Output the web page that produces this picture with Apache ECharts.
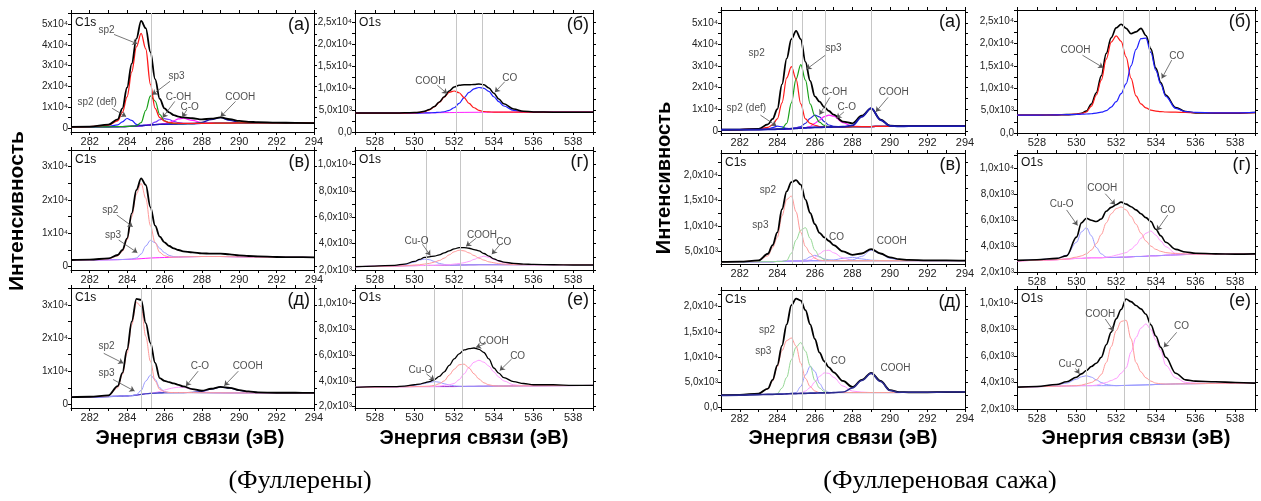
<!DOCTYPE html>
<html><head><meta charset="utf-8">
<script src="https://cdn.jsdelivr.net/npm/echarts@6/dist/echarts.min.js"></script>
<style>html,body{margin:0;padding:0;background:#fff}#c{width:1261px;height:501px}</style>
</head><body><div id="c"></div><script>
// ---------- energy grids ----------
const xC = [281,282,283,283.5,283.75,284,284.25,284.5,284.75,285,285.25,285.5,285.75,286,286.25,286.5,286.75,287,287.5,288,288.5,289,289.5,290,290.5,291,292,293,294];
const xO = [527,528,529,529.5,530,530.25,530.5,530.75,531,531.25,531.5,531.75,532,532.25,532.5,532.75,533,533.25,533.5,533.75,534,534.25,534.5,535,535.5,536,537,538,539];

// ---------- tick labels ----------
const X_LABELS_C = [282,284,286,288,290,292,294];
const X_LABELS_O = [528,530,532,534,536,538];
const C_TICKS_A = [0,10000,20000,30000,40000,50000];
const C_LABELS_A = ['0','1x10⁴','2x10⁴','3x10⁴','4x10⁴','5x10⁴'];
const C_TICKS_B = [0,10000,20000,30000];
const C_LABELS_B = ['0','1x10⁴','2x10⁴','3x10⁴'];
const O_TICKS_A = [0,5000,10000,15000,20000,25000];
const O_LABELS_A = ['0,0','5,0x10³','1,0x10⁴','1,5x10⁴','2,0x10⁴','2,5x10⁴'];
const O_TICKS_B = [2000,4000,6000,8000,10000];
const O_LABELS_B = ['2,0x10³','4,0x10³','6,0x10³','8,0x10³','1,0x10⁴'];
const RV_TICKS = [5000,10000,15000,20000];
const RV_LABELS = ['5,0x10³','1,0x10⁴','1,5x10⁴','2,0x10⁴'];
const RD_TICKS = [0,5000,10000,15000,20000];
const RD_LABELS = ['0,0','5,0x10³','1,0x10⁴','1,5x10⁴','2,0x10⁴'];

// ---------- LEFT (Фуллерены) ----------
// (а) C1s
const LA_bg    = [500,550,600,650,700,750,850,950,1100,1300,1500,1650,1750,1850,1900,1950,2000,2050,2100,2200,2300,2350,2400,2450,2450,2450,2450,2450,2400];
const LA_total = [600,700,1600,4200,9500,19500,31000,43000,51500,48000,36500,23500,14000,9500,7500,6200,5500,5100,4700,4200,4500,5100,4300,3400,3000,2800,2600,2500,2400];
const LA_sp2   = [550,700,1400,3500,7500,15000,27000,39000,45500,38000,21000,9500,5000,3300,2700,2400,2300,2250,2200,2250,2300,2350,2400,2450,2450,2450,2450,2450,2400];
const LA_sp3   = [500,550,600,650,700,760,880,1100,2600,8500,15500,13000,6500,3500,2500,2200,2100,2100,2150,2250,2300,2350,2400,2450,2450,2450,2450,2450,2400];
const LA_def   = [500,560,800,1500,3000,4600,3700,1800,1250,1320,1500,1650,1750,1850,1900,1950,2000,2050,2100,2200,2300,2350,2400,2450,2450,2450,2450,2450,2400];
const LA_coh   = [500,550,600,650,700,750,850,950,1120,1400,1800,2800,4000,4500,4100,3200,2600,2300,2150,2200,2300,2350,2400,2450,2450,2450,2450,2450,2400];
const LA_co    = [500,550,600,650,700,750,850,950,1100,1300,1500,1700,1850,2100,2600,3500,4400,4700,3700,2600,2350,2350,2400,2450,2450,2450,2450,2450,2400];
const LA_cooh  = [500,550,600,650,700,750,850,950,1100,1300,1500,1650,1750,1850,1900,1950,2000,2050,2200,2700,4100,5000,3700,2700,2500,2450,2450,2450,2400];
const LA_notes = [['sp2',282.9,47000,283.3,45000,284.55,40500],['sp3',286.65,24700,286.3,22500,285.35,16000],['sp2 (def)',282.4,12600,283.2,9500,283.95,5500],['C-OH',286.75,15000,286.55,12800,285.9,5000],['C-O',287.35,10200,287.2,8800,286.95,5200],['COOH',290.05,15000,289.8,12800,289.0,5400]];
const LA_vlines = [285.3];
// (б) O1s
const LB_bg    = [4300,4300,4300,4300,4300,4300,4320,4340,4360,4380,4400,4400,4420,4440,4450,4460,4470,4480,4490,4500,4500,4500,4500,4500,4500,4500,4500,4500,4500];
const LB_total = [4300,4300,4300,4350,4400,4500,4700,5100,5800,6800,8000,9300,10200,10600,10700,10700,10800,10900,10700,10000,8800,7500,6400,5200,4700,4550,4500,4500,4500];
const LB_cooh  = [4300,4300,4300,4300,4350,4450,4600,5000,5700,6700,7900,9000,9300,8900,7800,6500,5500,4900,4650,4550,4520,4500,4500,4500,4500,4500,4500,4500,4500];
const LB_co    = [4300,4300,4300,4300,4300,4300,4320,4340,4400,4480,4600,4900,5500,6500,7800,9000,9800,10100,9900,9200,8000,6900,5900,4900,4600,4520,4500,4500,4500];
const LB_notes = [['COOH',530.8,11500,531.15,10600,531.65,8700],['CO',534.8,12300,534.55,11400,534.05,9000]];
const LB_vlines = [532.1,533.4];
// (в) C1s
const LV_bg    = [1950,2000,2050,2100,2150,2200,2250,2300,2400,2500,2600,2650,2700,2750,2800,2850,2900,2950,3000,3050,3050,3050,3000,2950,2900,2850,2800,2800,2750];
const LV_total = [2000,2100,2500,3500,5000,8500,16000,23000,26500,24500,17800,12300,9000,7300,6200,5500,5000,4600,4300,4000,3900,3900,3700,3400,3200,3100,2900,2850,2800];
const LV_sp2   = [2000,2050,2350,3200,4600,8000,15000,21800,25000,20500,12300,7200,4300,3300,2900,2850,2900,2950,3000,3050,3050,3050,3000,2950,2900,2850,2800,2800,2750];
const LV_sp3   = [1950,2000,2050,2100,2150,2200,2300,2600,3800,6200,7900,7200,5500,4200,3400,3000,2900,2950,3000,3050,3050,3050,3000,2950,2900,2850,2800,2800,2750];
const LV_notes = [['sp2',283.1,17000,283.45,15500,284.3,12000],['sp3',283.25,9500,283.55,8000,284.55,4200]];
const LV_vlines = [285.3];
// (г) O1s
const LG_bg    = [2250,2280,2300,2320,2330,2340,2340,2350,2350,2360,2360,2370,2370,2380,2380,2390,2390,2400,2400,2400,2400,2400,2400,2400,2400,2400,2400,2400,2400];
const LG_total = [2250,2300,2350,2450,2650,2800,2950,3000,3050,3150,3300,3450,3600,3700,3700,3650,3550,3450,3250,3050,2850,2700,2600,2500,2450,2420,2400,2380,2380];
const LG_cuo   = [2250,2280,2320,2400,2600,2750,2830,2780,2650,2500,2420,2380,2370,2380,2380,2390,2390,2400,2400,2400,2400,2400,2400,2400,2400,2400,2400,2400,2400];
const LG_cooh  = [2250,2280,2300,2320,2380,2400,2450,2500,2600,2720,2900,3150,3380,3500,3450,3300,3100,2900,2750,2620,2550,2480,2450,2410,2400,2400,2400,2400,2400];
const LG_co    = [2250,2280,2300,2320,2330,2340,2340,2350,2350,2360,2380,2400,2450,2490,2550,2650,2800,2950,3050,2950,2800,2650,2550,2450,2420,2400,2400,2400,2400];
const LG_notes = [['Cu-O',530.1,4200,530.4,3950,530.8,3100],['COOH',533.4,4600,533.1,4400,532.6,3800],['CO',534.5,4100,534.3,3900,533.9,3200]];
const LG_vlines = [530.6,532.3];
// (д) C1s
const LD_bg    = [2100,2200,2350,2450,2500,2550,2650,2800,3000,3200,3300,3400,3450,3500,3520,3540,3550,3550,3550,3520,3500,3480,3460,3450,3450,3430,3420,3400,3400];
const LD_total = [2200,2300,2700,5500,9500,16500,25000,31800,31500,24500,18500,12500,7900,7100,6700,6300,5900,5400,4600,4100,4700,5300,5000,4300,3900,3600,3500,3500,3450];
const LD_sp2   = [2150,2250,2600,5000,9000,15500,24000,30800,29500,20500,13000,7000,4500,3800,3600,3550,3550,3550,3550,3520,3500,3480,3460,3450,3450,3430,3420,3400,3400];
const LD_sp3   = [2100,2200,2350,2450,2500,2550,2650,2900,4200,7000,8800,7500,5000,3800,3550,3540,3550,3550,3550,3520,3500,3480,3460,3450,3450,3430,3420,3400,3400];
const LD_co    = [2100,2200,2350,2450,2500,2550,2650,2800,3000,3200,3350,3550,3900,4300,4700,5000,5150,5100,4500,3800,3550,3480,3460,3450,3450,3430,3420,3400,3400];
const LD_cooh  = [2100,2200,2350,2450,2500,2550,2650,2800,3000,3200,3300,3400,3450,3500,3520,3540,3550,3550,3600,3900,4600,5200,4900,4200,3800,3550,3420,3400,3400];
const LD_notes = [['sp2',282.9,17400,282.75,15400,283.8,12400],['sp3',282.9,9400,283.25,7500,284.4,4000],['C-O',287.9,11600,287.8,10000,287.15,5500],['COOH',290.45,11600,289.95,10000,289.2,5600]];
const LD_vlines = [284.75,285.3];
// (е) O1s
const LE_bg    = [3500,3520,3540,3550,3560,3560,3560,3560,3560,3560,3560,3560,3560,3570,3570,3580,3580,3590,3590,3600,3600,3600,3600,3610,3620,3620,3630,3640,3650];
const LE_total = [3500,3550,3550,3600,3700,3750,3850,3950,4100,4350,4700,5200,5700,6100,6400,6500,6550,6450,6200,5700,5000,4600,4250,3950,3800,3700,3700,3650,3650];
const LE_cuo   = [3500,3520,3540,3580,3650,3720,3800,3880,3950,3900,3780,3680,3620,3590,3580,3580,3580,3590,3590,3600,3600,3600,3600,3610,3620,3620,3630,3640,3650];
const LE_cooh  = [3500,3520,3540,3550,3560,3570,3580,3600,3650,3780,4000,4450,4900,5250,5300,5000,4550,4150,3850,3700,3620,3600,3600,3610,3620,3620,3630,3640,3650];
const LE_co    = [3500,3520,3540,3550,3560,3560,3560,3560,3570,3600,3650,3700,3800,4100,4550,5050,5450,5600,5450,5150,4700,4300,4000,3700,3620,3620,3630,3640,3650];
const LE_notes = [['Cu-O',530.3,4800,530.6,4550,531.0,4050],['COOH',534.0,7100,533.6,6900,533.1,6600],['CO',535.2,5900,534.9,5700,534.3,4800]];
const LE_vlines = [531.0,532.4];

// ---------- RIGHT (Фуллереновая сажа) ----------
// (а) C1s
const RA_bg    = [500,550,600,650,700,750,800,900,1000,1150,1300,1400,1500,1600,1650,1700,1750,1800,1850,1900,1950,2000,2050,2100,2100,2150,2150,2200,2200];
const RA_total = [500,600,900,3000,5500,10000,21500,33500,42500,46300,42500,32000,23200,16000,13500,11000,9200,7500,4300,3500,7000,10400,5200,2400,2200,2150,2150,2200,2200];
const RA_sp2   = [500,600,900,1600,2800,5500,13000,24500,29800,24000,12500,5500,3500,2600,2000,1800,1750,1800,1850,1900,1950,2000,2050,2100,2100,2150,2150,2200,2200];
const RA_sp3   = [500,550,600,650,700,800,1000,3500,13000,24000,30700,23500,12500,7000,4000,2500,2000,1850,1850,1900,1950,2000,2050,2100,2100,2150,2150,2200,2200];
const RA_def   = [500,550,650,900,1500,2200,1800,1100,1050,1150,1300,1400,1500,1600,1650,1700,1750,1800,1850,1900,1950,2000,2050,2100,2100,2150,2150,2200,2200];
const RA_coh   = [500,550,600,650,700,750,800,900,1050,1400,2000,3500,5800,7300,6500,4300,2700,2100,1850,1900,1950,2000,2050,2100,2100,2150,2150,2200,2200];
const RA_co    = [500,550,600,650,700,750,800,900,1000,1150,1300,1500,2000,3500,5000,6600,7300,6800,3800,2100,1950,2000,2050,2100,2100,2150,2150,2200,2200];
const RA_cooh  = [500,550,600,650,700,750,800,900,1000,1150,1300,1400,1500,1600,1650,1700,1750,1800,1900,2500,6500,10500,5000,2300,2100,2150,2150,2200,2200];
const RA_notes = [['sp2',282.9,35800],['sp3',287.0,38100,286.55,35000,285.55,28500],['sp2 (def)',282.35,10400,283.1,7300,283.95,2300],['C-OH',287.05,17800,286.8,15500,286.25,7500],['C-O',287.7,11100,287.55,8800,287.15,5800],['COOH',290.2,17800,289.9,15500,289.25,8800]];
const RA_vlines = [284.77,285.35,286.58,289.03];
// (б) O1s
const RB_total = [4000,4000,4050,4100,4200,4400,4900,6500,9000,12800,17800,21300,23500,24300,23400,22200,22600,23400,21800,18800,14500,11300,8500,5700,4800,4500,4450,4450,4600];
const RB_cooh  = [4000,4000,4050,4100,4200,4350,4700,6000,8500,11800,16500,20300,21700,20500,17000,12200,8300,6500,5600,5100,4900,4800,4700,4650,4600,4550,4500,4500,4550];
const RB_co    = [4000,4000,4050,4100,4150,4200,4250,4300,4450,4650,5000,5800,7000,8800,11000,15000,18700,21100,21200,18000,14000,10900,8200,5500,4800,4600,4500,4500,4600];
const RB_notes = [['COOH',529.95,18500,530.3,17400,531.35,14600],['CO',535.05,17200,534.8,16300,534.3,12200]];
const RB_vlines = [532.35,533.65];
// (в) C1s
const RV_bg    = [2950,3000,3050,3050,3050,3100,3100,3150,3150,3200,3200,3200,3250,3250,3250,3250,3250,3250,3250,3250,3250,3250,3250,3250,3250,3250,3250,3250,3250];
const RV_total = [3000,3050,3300,4600,6300,8800,13300,16800,18600,19000,18100,15200,12600,10400,8700,7800,7100,6300,5050,4400,4650,5500,4650,3900,3550,3400,3300,3300,3250];
const RV_sp2   = [3000,3050,3250,4200,5800,7800,12000,15200,15900,12800,8800,6000,4700,3700,3350,3250,3250,3250,3250,3250,3250,3250,3250,3250,3250,3250,3250,3250,3250];
const RV_sp3   = [2950,3000,3050,3050,3050,3100,3100,3300,4700,7300,9200,9700,7600,5300,4000,3500,3300,3250,3250,3250,3250,3250,3250,3250,3250,3250,3250,3250,3250];
const RV_b1    = [2950,3000,3050,3050,3050,3100,3100,3150,3150,3200,3200,3500,4000,4300,4000,3600,3400,3300,3250,3250,3250,3250,3250,3250,3250,3250,3250,3250,3250];
const RV_co    = [2950,3000,3050,3050,3050,3100,3100,3150,3150,3200,3200,3250,3400,3900,4600,5200,5300,4800,3800,3300,3250,3250,3250,3250,3250,3250,3250,3250,3250];
const RV_b2    = [2950,3000,3050,3050,3050,3100,3100,3150,3150,3200,3200,3200,3250,3250,3250,3280,3320,3400,3700,3900,3600,3350,3280,3250,3250,3250,3250,3250,3250];
const RV_cooh  = [2950,3000,3050,3050,3050,3100,3100,3150,3150,3200,3200,3200,3250,3250,3250,3250,3250,3250,3250,3400,4100,5300,4600,3700,3400,3300,3250,3250,3250];
const RV_notes = [['sp2',283.5,17000],['sp3',283.1,10200],['CO',287.15,7900],['COOH',290.1,7100]];
const RV_vlines = [284.77,285.35,286.58,289.1];
// (г) O1s
const RG_bg    = [2850,2900,2950,3000,3050,3050,3080,3100,3100,3100,3120,3120,3130,3150,3150,3170,3200,3200,3220,3250,3250,3270,3300,3320,3350,3370,3380,3400,3400];
const RG_total = [2900,2950,3050,3250,4700,5800,6150,6000,5900,6100,6700,7000,7200,7400,7250,7050,6800,6500,6200,5900,5300,4800,4300,3750,3550,3450,3400,3380,3400];
const RG_cuo   = [2850,2950,3050,3300,4300,5100,5430,4800,3900,3400,3150,3120,3130,3150,3150,3170,3200,3200,3220,3250,3250,3270,3300,3320,3350,3370,3380,3400,3400];
const RG_cooh  = [2850,2900,2950,3000,3150,3250,3400,3700,4200,4900,5800,6500,6900,7030,6800,6300,5700,5000,4400,4000,3750,3600,3500,3420,3400,3380,3380,3400,3400];
const RG_co    = [2850,2900,2950,3000,3050,3050,3080,3100,3100,3100,3150,3200,3300,3400,3500,3750,4100,4600,5000,5170,4850,4400,3950,3450,3400,3380,3380,3400,3400];
const RG_notes = [['Cu-O',529.25,7200,529.5,6800,530.05,5600],['COOH',531.3,8450,531.45,8050,531.95,7200],['CO',534.6,6800,534.6,6400,534.05,5200]];
const RG_vlines = [530.48,532.36,533.67];
// (д) C1s
const RD_bg    = [2450,2500,2600,2650,2650,2700,2700,2750,2800,2800,2850,2850,2900,2900,2950,2950,2950,3000,3000,3000,3000,3000,3000,3000,3000,3050,3050,3100,3100];
const RD_total = [2500,2550,2800,3800,5500,8400,12300,16500,20300,21600,21200,19300,16500,13600,10900,9200,8000,7000,5300,4100,5500,6900,5300,3500,3100,3050,3050,3100,3100];
const RD_sp2   = [2450,2500,2750,3700,5300,8100,11300,13300,13800,12200,8800,5800,4200,3300,3000,2950,2950,3000,3000,3000,3000,3000,3000,3000,3000,3050,3050,3100,3100];
const RD_sp3   = [2450,2500,2600,2650,2650,2800,3900,6000,9500,12000,12900,11200,8300,5400,3900,3200,3000,3000,3000,3000,3000,3000,3000,3000,3000,3050,3050,3100,3100];
const RD_b     = [2450,2500,2600,2650,2650,2700,2700,2750,2850,3000,4200,6500,8200,7200,4800,3500,3050,3000,3000,3000,3000,3000,3000,3000,3000,3050,3050,3100,3100];
const RD_co    = [2450,2500,2600,2650,2650,2700,2700,2750,2800,2800,2900,3300,4000,5100,6200,6900,6800,6000,4300,3300,3100,3000,3000,3000,3000,3050,3050,3100,3100];
const RD_cooh  = [2450,2500,2600,2650,2650,2700,2700,2750,2800,2800,2850,2850,2900,2900,2950,2950,2950,3000,3100,3900,5400,6800,5200,3400,3050,3050,3050,3100,3100];
const RD_notes = [['sp2',283.45,15400],['sp3',283.25,11200],['CO',287.25,9200],['COOH',290.3,7800]];
const RD_vlines = [284.77,285.35,286.58,289.1];
// (е) O1s
const RE_bg    = [3620,3680,3720,3740,3750,3760,3760,3760,3760,3760,3760,3760,3760,3770,3780,3790,3800,3810,3820,3830,3850,3860,3870,3890,3900,3910,3930,3940,3950];
const RE_total = [3650,3700,3850,4050,4400,4650,4900,5200,5450,5900,6850,7800,8800,9500,10300,10100,9800,9550,9150,8350,7500,6650,5900,4700,4200,4100,4050,4000,3950];
const RE_cuo   = [3620,3680,3850,3950,4250,4430,4510,4400,4200,4000,3850,3790,3760,3770,3780,3790,3800,3810,3820,3830,3850,3860,3870,3890,3900,3910,3930,3940,3950];
const RE_cooh  = [3620,3680,3720,3740,3760,3800,3900,4000,4200,4600,5500,6700,7900,8600,8700,7300,5500,4800,4350,4100,3950,3900,3880,3890,3900,3910,3930,3940,3950];
const RE_co    = [3620,3680,3720,3740,3750,3760,3760,3760,3800,3900,4000,4150,4300,4700,5100,6300,7400,8100,8420,8000,7200,6400,5300,4350,4000,3950,3930,3940,3950];
const RE_notes = [['Cu-O',529.7,5400,529.95,5050,530.15,4650],['COOH',531.2,9170,531.45,8790,531.86,7900],['CO',535.3,8240,535.05,7780,534.4,6650]];
const RE_vlines = [530.5,532.4,533.65];

// ---------- layout & styles ----------
const FONT = 'Liberation Sans, Arial, sans-serif';
const BOX = {
  LA:{left:71,top:13,width:243,height:119}, LB:{left:355,top:13,width:238,height:119},
  LV:{left:71,top:150,width:243,height:120}, LG:{left:355,top:150,width:238,height:120},
  LD:{left:71,top:288,width:243,height:120}, LE:{left:355,top:288,width:238,height:120},
  RA:{left:721,top:10,width:244,height:123}, RB:{left:1017,top:10,width:238,height:123},
  RV:{left:721,top:153,width:244,height:111}, RG:{left:1017,top:153,width:238,height:119},
  RD:{left:721,top:290,width:244,height:119}, RE:{left:1017,top:289,width:238,height:120}
};
const RED='#ff1a1a', GRN='#18a018', BLU='#2020ff', MAG='#ff20ff', VIO='#9932cc', DBL='#1a1ab0';
const pRED='#ff9a9a', pGRN='#96d896', pBLU='#9a9aff', pMAG='#ff9cff';
const K='#000';

const panels = [
  {id:'LA',k:'C',y:[-1900,55300],yt:C_TICKS_A,yl:C_LABELS_A,tag:'C1s',letter:'(а)',notes:LA_notes,vl:LA_vlines,
   curves:[[LA_bg,VIO,1],[LA_def,BLU,1.2],[LA_coh,'#7a3cff',1.2],[LA_co,MAG,1.2],[LA_cooh,DBL,1.4],[LA_sp3,GRN,1.2],[LA_sp2,RED,1.3],[LA_total,K,1.8]]},
  {id:'LB',k:'O',y:[0,27000],yt:O_TICKS_A,yl:O_LABELS_A,tag:'O1s',letter:'(б)',notes:LB_notes,vl:LB_vlines,
   curves:[[LB_bg,MAG,1],[LB_co,BLU,1.2],[LB_cooh,RED,1.2],[LB_total,K,1.5]]},
  {id:'LV',k:'C',y:[-1000,35000],yt:C_TICKS_B,yl:C_LABELS_B,tag:'C1s',letter:'(в)',notes:LV_notes,vl:LV_vlines,
   curves:[[LV_bg,MAG,1],[LV_sp3,pBLU,1],[LV_sp2,pRED,1],[LV_total,K,1.8]]},
  {id:'LG',k:'O',y:[2000,11100],yt:O_TICKS_B,yl:O_LABELS_B,tag:'O1s',letter:'(г)',notes:LG_notes,vl:LG_vlines,
   curves:[[LG_bg,VIO,1],[LG_cuo,pBLU,1],[LG_co,pMAG,1],[LG_cooh,pRED,1],[LG_total,K,1.3]]},
  {id:'LD',k:'C',y:[-1100,35100],yt:C_TICKS_B,yl:C_LABELS_B,tag:'C1s',letter:'(д)',notes:LD_notes,vl:LD_vlines,
   curves:[[LD_bg,'#4040e0',1],[LD_co,pMAG,1],[LD_cooh,'#4040c0',1.2],[LD_sp3,pBLU,1],[LD_sp2,pRED,1],[LD_total,K,1.8]]},
  {id:'LE',k:'O',y:[1900,11200],yt:O_TICKS_B,yl:O_LABELS_B,tag:'O1s',letter:'(е)',notes:LE_notes,vl:LE_vlines,
   curves:[[LE_bg,VIO,1],[LE_cuo,pBLU,1],[LE_co,pMAG,1],[LE_cooh,pRED,1],[LE_total,K,1.3]]},
  {id:'RA',k:'C',y:[-1000,56000],yt:C_TICKS_A,yl:C_LABELS_A,tag:'',letter:'(а)',notes:RA_notes,vl:RA_vlines,
   curves:[[RA_bg,VIO,1.2],[RA_def,BLU,1.2],[RA_coh,'#2a2ad8',1.2],[RA_co,MAG,1.2],[RA_sp3,GRN,1.2],[RA_sp2,RED,1.2],[RA_total,K,1.8],[RA_cooh,DBL,1.8]]},
  {id:'RB',k:'O',y:[0,27500],yt:O_TICKS_A,yl:O_LABELS_A,tag:'',letter:'(б)',notes:RB_notes,vl:RB_vlines,
   curves:[[RB_total,K,1.6],[RB_cooh,RED,1.2],[RB_co,BLU,1.2]]},
  {id:'RV',k:'C',y:[2600,24300],yt:RV_TICKS,yl:RV_LABELS,tag:'C1s',letter:'(в)',notes:RV_notes,vl:RV_vlines,
   curves:[[RV_bg,VIO,1],[RV_b1,pBLU,1],[RV_b2,pBLU,1],[RV_co,pMAG,1],[RV_cooh,pBLU,1],[RV_sp3,pGRN,1],[RV_sp2,pRED,1],[RV_total,K,1.8]]},
  {id:'RG',k:'O',y:[2000,11200],yt:O_TICKS_B,yl:O_LABELS_B,tag:'O1s',letter:'(г)',notes:RG_notes,vl:RG_vlines,
   curves:[[RG_bg,MAG,1],[RG_cuo,pBLU,1],[RG_co,pMAG,1],[RG_cooh,pRED,1],[RG_total,K,1.6]]},
  {id:'RD',k:'C',y:[-250,23300],yt:RD_TICKS,yl:RD_LABELS,tag:'C1s',letter:'(д)',notes:RD_notes,vl:RD_vlines,
   curves:[[RD_bg,'#6060ff',1],[RD_co,pMAG,1],[RD_b,pBLU,1],[RD_sp3,pGRN,1],[RD_sp2,pRED,1],[RD_total,K,1.8],[RD_cooh,'#2a2a90',1.6]]},
  {id:'RE',k:'O',y:[2000,11050],yt:O_TICKS_B,yl:O_LABELS_B,tag:'O1s',letter:'(е)',notes:RE_notes,vl:RE_vlines,
   curves:[[RE_bg,pBLU,1],[RE_cuo,pBLU,1],[RE_co,pMAG,1],[RE_cooh,pRED,1],[RE_total,K,1.6]]}
];

function tickSet(t, r){
  const step=(t[1]-t[0])/2, out=[];
  for(let v=t[0]-step; v<=r[1]+1e-6; v+=step){ if(v>=r[0]-1e-6) out.push(v); }
  return out;
}

const grids=[], xAxes=[], yAxes=[], series=[], graphics=[];
const axLine={show:true,onZero:false,lineStyle:{color:'#000',width:1}};
panels.forEach((p,i)=>{
  const b=BOX[p.id];
  grids.push({left:b.left,top:b.top,width:b.width,height:b.height,show:false});
  const xs = p.k==='C'?xC:xO, xr = p.k==='C'?[281,294]:[527,539], xl = p.k==='C'?X_LABELS_C:X_LABELS_O;
  const tick={show:true,inside:false,length:3,lineStyle:{color:'#000',width:1}};
  xAxes.push({gridIndex:i,type:'value',position:'bottom',min:xr[0],max:xr[1],interval:1,axisLine:axLine,axisTick:tick,
    axisLabel:{margin:4,fontSize:11,color:'#222',fontFamily:FONT,showMinLabel:true,showMaxLabel:true,formatter:v=>xl.indexOf(v)>=0?String(v):''},splitLine:{show:false}});
  xAxes.push({gridIndex:i,type:'value',position:'top',min:xr[0],max:xr[1],interval:1,axisLine:axLine,axisTick:tick,axisLabel:{show:false},splitLine:{show:false}});
  const tk=tickSet(p.yt,p.y);
  yAxes.push({gridIndex:i,type:'value',position:'left',min:p.y[0],max:p.y[1],axisLine:axLine,
    axisTick:Object.assign({},tick,{customValues:tk}),
    axisLabel:{customValues:p.yt,margin:3,fontSize:10,color:'#222',fontFamily:FONT,formatter:v=>{const k=p.yt.indexOf(v);return k>=0?p.yl[k]:'';}},splitLine:{show:false}});
  yAxes.push({gridIndex:i,type:'value',position:'right',min:p.y[0],max:p.y[1],axisLine:axLine,
    axisTick:Object.assign({},tick,{customValues:tk}),axisLabel:{show:false},splitLine:{show:false}});
  const xi=2*i, yi=2*i;
  // vertical guide lines
  series.push({type:'line',xAxisIndex:xi,yAxisIndex:yi,data:xs.map((x,k)=>[x,p.curves[0][0][k]]),symbol:'none',lineStyle:{opacity:0},z:1,silent:true,
    markLine:{silent:true,symbol:['none','none'],label:{show:false},lineStyle:{color:'#c6c6c6',width:1,type:'solid'},data:p.vl.map(v=>({xAxis:v}))}});
  p.curves.forEach(([ys,color,w],ci)=>{
    series.push({type:'line',xAxisIndex:xi,yAxisIndex:yi,data:xs.map((x,k)=>[x,ys[k]]),symbol:'none',showSymbol:false,
      smooth:0.35,smoothMonotone:'x',lineStyle:{color:color,width:w},z:2+ci*0.01,silent:true});
  });
  series.push({type:'scatter',xAxisIndex:xi,yAxisIndex:yi,data:p.notes.map(n=>[n[1],n[2],n[0]]),symbolSize:1,itemStyle:{color:'rgba(0,0,0,0)'},z:5,silent:true,
    label:{show:true,position:'inside',formatter:q=>q.value[2],fontSize:10,color:'#222',fontFamily:FONT},
    markLine:{silent:true,symbol:['none','arrow'],symbolSize:5,label:{show:false},lineStyle:{color:'#555',width:0.8,type:'solid'},
      data:p.notes.filter(n=>n.length>3).map(n=>[{coord:[n[3],n[4]]},{coord:[n[5],n[6]]}])}});
  if(p.tag) graphics.push({type:'text',x:b.left+4,y:b.top+4,style:{text:p.tag,font:'12px '+FONT,fill:'#111',align:'left',verticalAlign:'top',textAlign:'left',textVerticalAlign:'top'}});
  graphics.push({type:'text',x:b.left+b.width-4,y:b.top+3,style:{text:p.letter,font:'18px '+FONT,fill:'#111',align:'right',verticalAlign:'top',textAlign:'right',textVerticalAlign:'top'}});
});

const XT='Энергия связи (эВ)';
[[190,'L'],[474,'L'],[843,'R'],[1136,'R']].forEach(([cx])=>{
  graphics.push({type:'text',x:cx,y:438,style:{text:XT,font:'bold 20px '+FONT,fill:'#000',align:'center',verticalAlign:'middle',textAlign:'center',textVerticalAlign:'middle'}});
});
graphics.push({type:'text',x:17,y:211,rotation:Math.PI/2,style:{text:'Интенсивность',font:'bold 21px '+FONT,fill:'#000',align:'center',verticalAlign:'middle',textAlign:'center',textVerticalAlign:'middle'}});
graphics.push({type:'text',x:664,y:178,rotation:Math.PI/2,style:{text:'Интенсивность',font:'bold 20px '+FONT,fill:'#000',align:'center',verticalAlign:'middle',textAlign:'center',textVerticalAlign:'middle'}});
graphics.push({type:'text',x:300,y:481,style:{text:'(Фуллерены)',font:'26px Liberation Serif, Times New Roman, serif',fill:'#000',align:'center',verticalAlign:'middle',textAlign:'center',textVerticalAlign:'middle'}});
graphics.push({type:'text',x:940,y:481,style:{text:'(Фуллереновая сажа)',font:'26px Liberation Serif, Times New Roman, serif',fill:'#000',align:'center',verticalAlign:'middle',textAlign:'center',textVerticalAlign:'middle'}});

const chart=echarts.init(document.getElementById('c'),null,{renderer:'canvas'});
chart.setOption({backgroundColor:'#fff',animation:false,grid:grids,xAxis:xAxes,yAxis:yAxes,series:series,graphic:{elements:graphics}});
</script></body></html>
